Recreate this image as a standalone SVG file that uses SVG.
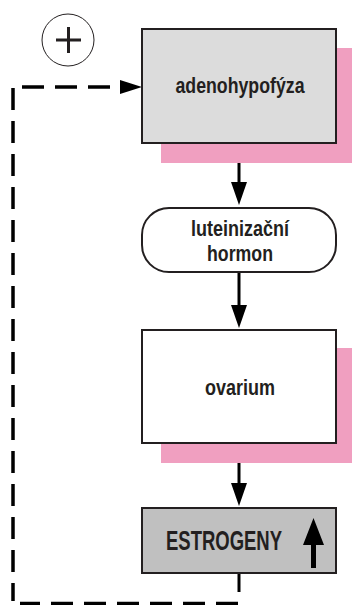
<svg xmlns="http://www.w3.org/2000/svg" width="352" height="605" viewBox="0 0 352 605">
<style>
.box{stroke:#231f20;stroke-width:2}
.shadow{fill:#f09fc0}
.t{font-family:"Liberation Sans",Arial,sans-serif;font-weight:bold;fill:#231f20;text-anchor:middle}
.conn{fill:none;stroke:#000;stroke-width:3}
.dash{fill:none;stroke:#000;stroke-width:3.5;stroke-dasharray:22 11}
.head{fill:#000}
</style>
<g id="plus">
<circle cx="68" cy="40" r="26" fill="#fff" stroke="#231f20" stroke-width="1"/>
<path d="M56,40 H81 M68.5,27 V53" stroke="#231f20" stroke-width="3" fill="none"/>
</g>
<g id="connectors">
<path class="conn" d="M239,573 V592"/>
<path class="dash" d="M238,603.5 H20"/>
<path class="dash" d="M13,88 V601"/>
<path class="dash" d="M22,87 H110"/>
<path class="head" d="M120,80 L142,87 L120,94 Z"/>
<path class="conn" d="M239,143 V184"/>
<path class="head" d="M231,182 L239,205 L247,182 Z"/>
<path class="conn" d="M239,272 V307"/>
<path class="head" d="M231,305 L239,328 L247,305 Z"/>
<path class="conn" d="M239,443 V485"/>
<path class="head" d="M231,483 L239,506 L247,483 Z"/>
</g>
<g id="adenohypofyza">
<rect class="shadow" x="161" y="48" width="191" height="115"/>
<rect class="box" x="142" y="29" width="194" height="114" fill="#dcdcdc"/>
<text class="t" x="240" y="93" font-size="22" textLength="129" lengthAdjust="spacingAndGlyphs">adenohypofýza</text>
</g>
<g id="lh">
<rect class="box" x="142" y="208" width="194" height="64" rx="27" ry="27" fill="#fff"/>
<text class="t" x="240" y="236" font-size="22" textLength="98" lengthAdjust="spacingAndGlyphs">luteinizační</text>
<text class="t" x="240" y="261" font-size="22" textLength="66" lengthAdjust="spacingAndGlyphs">hormon</text>
</g>
<g id="ovarium">
<rect class="shadow" x="161" y="348" width="191" height="115"/>
<rect class="box" x="142" y="330" width="194" height="113" fill="#fff"/>
<text class="t" x="240" y="395" font-size="22" textLength="70" lengthAdjust="spacingAndGlyphs">ovarium</text>
</g>
<g id="estrogeny">
<rect class="box" x="142" y="508" width="194" height="65" fill="#c0c0c0"/>
<text class="t" x="224" y="550" font-size="28" textLength="116" lengthAdjust="spacingAndGlyphs">ESTROGENY</text>
<path d="M303,545 L313.5,518 L324,545 Z M311,544 H316 V568 H311 Z" fill="#000"/>
</g>
</svg>
